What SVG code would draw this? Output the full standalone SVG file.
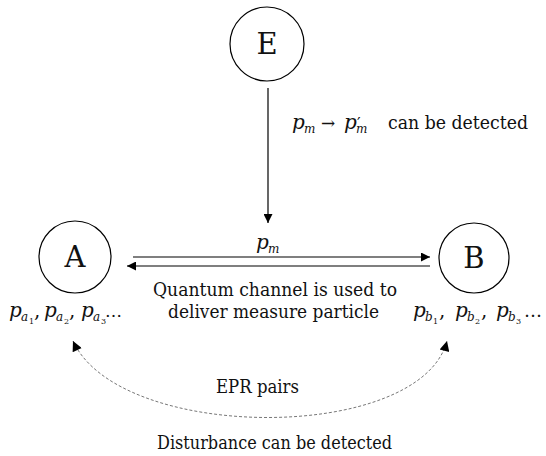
<svg xmlns="http://www.w3.org/2000/svg" width="546" height="456" viewBox="0 0 546 456">
<defs>
<style>
.node{fill:#fff;stroke:#000;stroke-width:1.2}
.lbl{font-family:"DejaVu Serif",serif;fill:#111}
.big{font-size:29px}
.t{font-size:20px}
.s{font-size:18.5px}
.it{font-style:italic}
.sub{font-size:12px;font-style:italic}
.sub2{font-size:8px}
.ln{stroke:#000;stroke-width:1.2;fill:none}
.dash{stroke:#777;stroke-width:1;fill:none;stroke-dasharray:3,2}
</style>
<marker id="ah" viewBox="0 0 10 10" refX="10" refY="5" markerWidth="12" markerHeight="9" markerUnits="userSpaceOnUse" orient="auto">
<path d="M0,0 L10,5 L0,10 z" fill="#000"/>
</marker>
<marker id="ah2" viewBox="0 0 10 10" refX="10" refY="5" markerWidth="13" markerHeight="10" markerUnits="userSpaceOnUse" orient="auto-start-reverse">
<path d="M0,0 L10,5 L0,10 z" fill="#000"/>
</marker>
</defs>
<rect width="546" height="456" fill="#fff"/>
<g id="E">
<circle class="node" cx="267" cy="44" r="37"/>
<text class="lbl big" x="267" y="54" text-anchor="middle">E</text>
</g>
<g id="A">
<circle class="node" cx="75" cy="257" r="36"/>
<text class="lbl big" x="75" y="267" text-anchor="middle">A</text>
<text class="lbl t" y="317"><tspan class="it" x="9">p</tspan><tspan class="sub" x="21" dy="4">a</tspan><tspan class="sub2" x="29" dy="3">1</tspan><tspan x="34" dy="-7">,</tspan><tspan class="it" x="44">p</tspan><tspan class="sub" x="56" dy="4">a</tspan><tspan class="sub2" x="64" dy="3">2</tspan><tspan x="69" dy="-7">,</tspan><tspan class="it" x="81">p</tspan><tspan class="sub" x="93" dy="4">a</tspan><tspan class="sub2" x="101" dy="3">3</tspan><tspan x="105" dy="-7" font-size="17">…</tspan></text>
</g>
<g id="B">
<circle class="node" cx="474" cy="258" r="35"/>
<text class="lbl big" x="474" y="268" text-anchor="middle">B</text>
<text class="lbl t" y="317"><tspan class="it" x="413">p</tspan><tspan class="sub" x="425" dy="4">b</tspan><tspan class="sub2" x="433" dy="3">1</tspan><tspan x="439" dy="-7">,</tspan><tspan class="it" x="455">p</tspan><tspan class="sub" x="467" dy="4">b</tspan><tspan class="sub2" x="475" dy="3">2</tspan><tspan x="481" dy="-7">,</tspan><tspan class="it" x="496">p</tspan><tspan class="sub" x="508" dy="4">b</tspan><tspan class="sub2" x="516" dy="3">3</tspan><tspan x="524" dy="-7" font-size="18">…</tspan></text>
</g>
<g id="connectors">
<line class="ln" x1="268" y1="88" x2="268" y2="223" marker-end="url(#ah)"/>
<line class="ln" x1="133" y1="257" x2="430" y2="257" marker-end="url(#ah)"/>
<line class="ln" x1="430" y1="266" x2="127" y2="266" marker-end="url(#ah)"/>
<path class="dash" d="M73,341 C120,443 420,443 447,341" marker-start="url(#ah2)" marker-end="url(#ah2)"/>
</g>
<g id="labels">
<text class="lbl t" y="129"><tspan class="it" x="292">p</tspan><tspan class="sub" x="304" dy="4">m</tspan><tspan x="321" dy="-4" font-size="17">→</tspan><tspan class="it" x="344">p</tspan><tspan x="357" font-size="16">′</tspan><tspan class="sub" x="356" dy="4">m</tspan></text>
<text class="lbl s" x="388" y="129" textLength="140" lengthAdjust="spacingAndGlyphs">can be detected</text>
<text class="lbl t" y="249"><tspan class="it" x="256">p</tspan><tspan class="sub" x="268" dy="4">m</tspan></text>
<text class="lbl s" x="153" y="296" textLength="244" lengthAdjust="spacingAndGlyphs">Quantum channel is used to</text>
<text class="lbl s" x="168" y="318" textLength="211" lengthAdjust="spacingAndGlyphs">deliver measure particle</text>
<text class="lbl s" x="216" y="393" textLength="83" lengthAdjust="spacingAndGlyphs">EPR pairs</text>
<text class="lbl s" x="157" y="449" textLength="235" lengthAdjust="spacingAndGlyphs">Disturbance can be detected</text>
</g>
</svg>
